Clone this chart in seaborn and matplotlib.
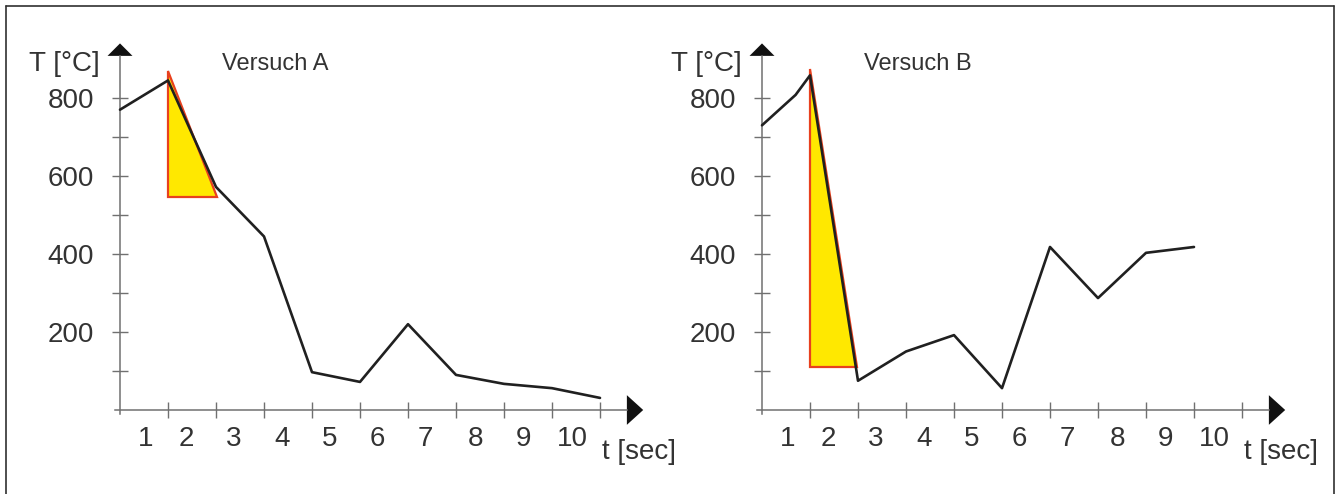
import numpy as np
import pandas as pd
import matplotlib
matplotlib.use("Agg")
import matplotlib.pyplot as plt
from matplotlib.lines import Line2D
from matplotlib.patches import Polygon
import seaborn as sns

# Messwerte Versuch A
zeit_a = [0, 1, 2, 3, 4, 5, 6, 7, 8, 9, 10]
temp_a = [770, 845, 572, 445, 97, 72, 220, 90, 67, 56, 31]

# Messwerte Versuch B
zeit_b = [0, 0.7, 1, 2, 3, 4, 5, 6, 7, 8, 9]
temp_b = [730, 808, 858, 75, 150, 192, 56, 418, 287, 403, 418]

# Abkuehl-Dreiecke (Zeit, Temperatur)
dreieck_a_t = [1, 1, 2.02]
dreieck_a_T = [870, 545, 545]
dreieck_b_t = [1, 1, 1.98]
dreieck_b_T = [875, 110, 110]

x_ticks = list(range(1, 11))
x_label_pos = [0.53, 1.38, 2.36, 3.37, 4.37, 5.37, 6.36, 7.41, 8.4, 9.42]
x_labels = [str(i) for i in range(1, 11)]
y_ticks = [200, 400, 600, 800]
y_minor = [100, 300, 500, 700]

sns.set_theme(style="white")
plt.rcParams['font.family'] = ['Liberation Sans', 'DejaVu Sans']

TEXT = "#333333"
AXIS = "#707070"

fig = plt.figure(figsize=(13.38, 4.94), dpi=100)

W, H = 1338, 494
# Pixel-Skala: 48 px pro Sekunde, 0.39 px pro Grad
def achse_anlegen(x0_px):
    left = (x0_px - 0.1 * 48) / W
    bottom = (84 - 10 * 0.39) / H
    width = (10.66 * 48) / W
    height = (918 * 0.39) / H
    ax = fig.add_axes([left, bottom, width, height])
    ax.set_xlim(-0.1, 10.56)
    ax.set_ylim(-10, 908)
    return ax


def diagramm(ax, zeit, temp, dr_t, dr_T, titel):
    ax.add_patch(Polygon(list(zip(dr_t, dr_T)), closed=True, facecolor="#ffe800",
                         edgecolor="#e8401e", linewidth=1.6, zorder=2))
    df = pd.DataFrame({"t": zeit, "T": temp})
    sns.lineplot(data=df, x="t", y="T", ax=ax, color="#202020", linewidth=1.9,
                 sort=False, zorder=3)

    for s in ["top", "right"]:
        ax.spines[s].set_visible(False)
    for s in ["left", "bottom"]:
        ax.spines[s].set_position(("data", 0))
        ax.spines[s].set_color(AXIS)
        ax.spines[s].set_linewidth(1.1)

    ax.set_xticks(x_ticks)
    ax.set_xticklabels([])
    ax.set_xticks(x_label_pos, minor=True)
    ax.set_xticklabels(x_labels, minor=True)
    ax.set_yticks(y_ticks)
    ax.set_yticklabels([str(v) for v in y_ticks])
    ax.set_yticks(y_minor, minor=True)

    ax.tick_params(axis="x", which="major", direction="inout", length=11,
                   width=1.0, color=AXIS, bottom=True)
    ax.tick_params(axis="x", which="minor", length=0, pad=11.5, labelsize=20,
                   labelcolor=TEXT, bottom=True)
    ax.tick_params(axis="y", which="both", direction="inout", length=11,
                   width=1.0, color=AXIS, left=True, pad=13, labelsize=20,
                   labelcolor=TEXT)
    ax.set_xlabel("")
    ax.set_ylabel("")
    ax.grid(False)

    # Pfeilspitzen
    ax.add_patch(Polygon([(-0.26, 908), (0.26, 908), (0, 940)], closed=True,
                         facecolor="#111111", edgecolor="none", clip_on=False))
    ax.add_patch(Polygon([(10.56, -38), (10.56, 38), (10.9, 0)], closed=True,
                         facecolor="#111111", edgecolor="none", clip_on=False))

    ax.text(-0.42, 888, "T [°C]", ha="right", va="center", fontsize=20,
            color=TEXT, clip_on=False)
    ax.text(2.13, 886, titel, ha="left", va="center", fontsize=17,
            color=TEXT, clip_on=False)
    ax.text(10.04, -108, "t [sec]", ha="left", va="center", fontsize=20,
            color=TEXT, clip_on=False)


ax_a = achse_anlegen(120)
diagramm(ax_a, zeit_a, temp_a, dreieck_a_t, dreieck_a_T, "Versuch A")
ax_b = achse_anlegen(762)
diagramm(ax_b, zeit_b, temp_b, dreieck_b_t, dreieck_b_T, "Versuch B")

# Rahmen
for xs, ys in [([6 / W, 6 / W], [0, 1 - 6 / H]),
               ([6 / W, 1334 / W], [1 - 6 / H, 1 - 6 / H]),
               ([1334 / W, 1334 / W], [0, 1 - 6 / H])]:
    fig.add_artist(Line2D(xs, ys, color="#303030", linewidth=1.2))

fig.savefig("out.png", dpi=100)
